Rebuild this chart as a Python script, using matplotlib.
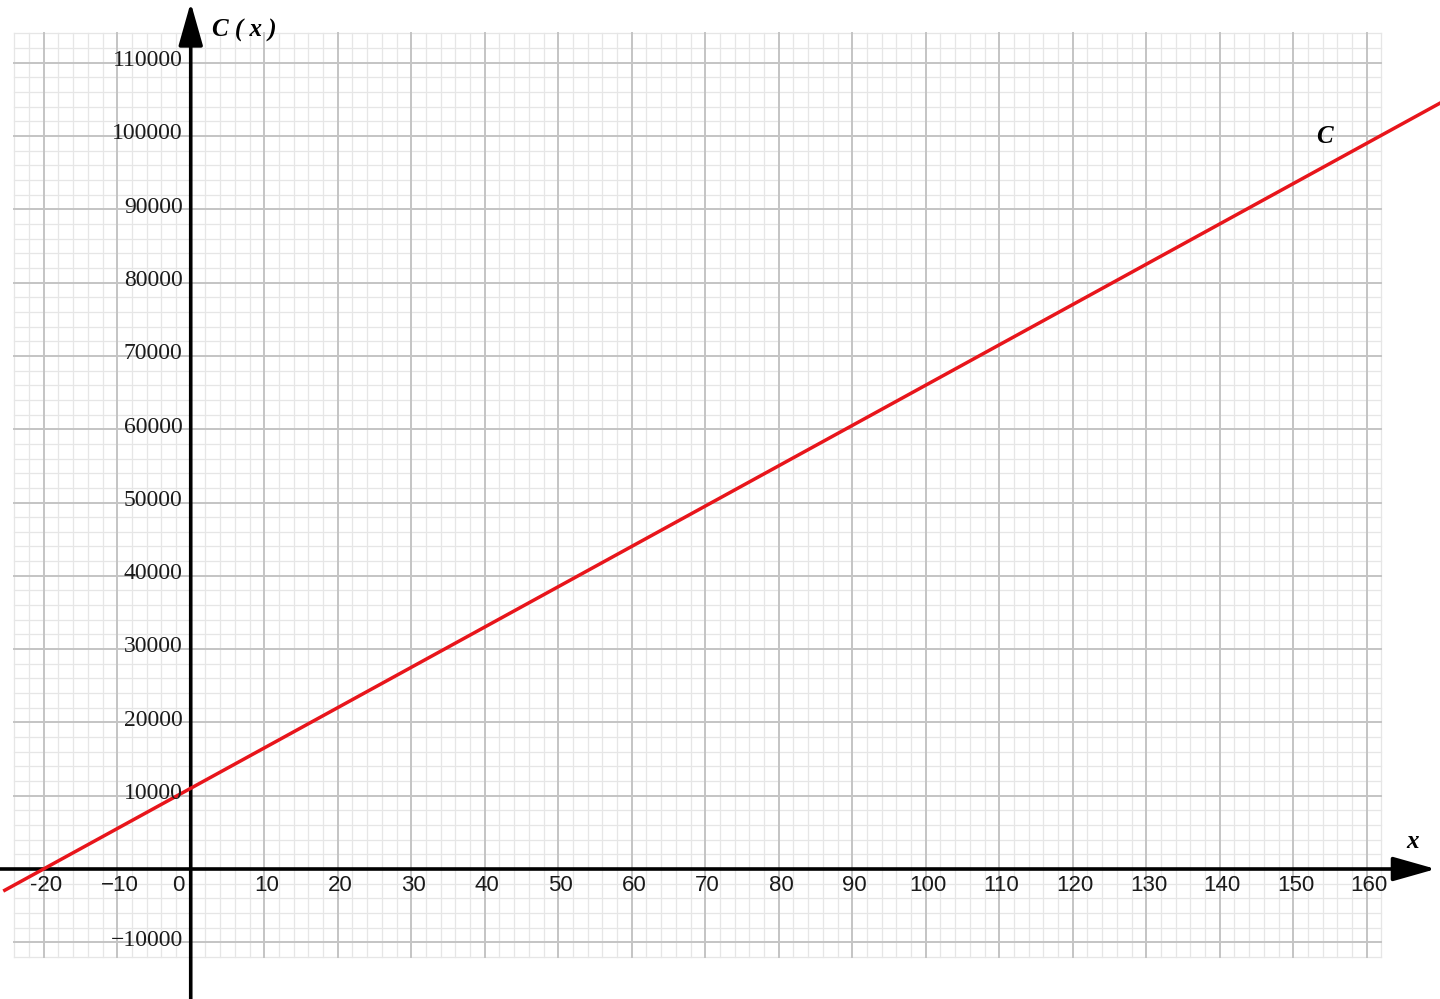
import numpy as np
import matplotlib
matplotlib.use("Agg")
import matplotlib.pyplot as plt

# cost line C(x), end points
line_x = [-25.3, 170.0]
line_y = [-2900, 104500]

x_ticks = [-20, -10, 0, 10, 20, 30, 40, 50, 60, 70, 80, 90, 100, 110, 120, 130, 140, 150, 160]
y_ticks = [-10000, 10000, 20000, 30000, 40000, 50000, 60000, 70000, 80000, 90000, 100000, 110000]

# grid extent
grid_x = (-24, 162)
grid_y = (-12000, 114000)

fig = plt.figure(figsize=(14.4, 9.99), dpi=100)
ax = fig.add_axes([0, 0, 1, 1])
ax.set_xlim(-25.95, 169.97)
ax.set_ylim(-17735, 118554)
ax.axis("off")

# minor + major grid
for gx in np.arange(grid_x[0], grid_x[1] + 0.1, 2):
    major = gx % 10 == 0
    ax.plot([gx, gx], grid_y, color="#c4c4c4" if major else "#e6e6e6",
            lw=1.4 if major else 0.9, zorder=1 if major else 0)
for gy in np.arange(grid_y[0], grid_y[1] + 1, 2000):
    major = gy % 10000 == 0
    ax.plot(grid_x, [gy, gy], color="#c4c4c4" if major else "#e6e6e6",
            lw=1.4 if major else 0.9, zorder=1 if major else 0)

# axes with arrows
arrow = dict(arrowstyle="-|>,head_length=1.2,head_width=0.34", lw=2.6,
             color="black", shrinkA=0, shrinkB=0, mutation_scale=22)
ax.annotate("", xy=(169.4, 0), xytext=(-26, 0), arrowprops=arrow, zorder=3)
ax.annotate("", xy=(0, 118200), xytext=(0, -17735), arrowprops=arrow, zorder=3)

# cost line
ax.plot(line_x, line_y, color="#e8151b", lw=2.5, zorder=4)

# tick labels
for t in x_ticks:
    if t == 0:
        ax.text(-0.9, -2300, "0", ha="right", va="center", fontsize=16,
                family="Liberation Sans", color="#1a1a1a", zorder=5)
    else:
        lab = "-20" if t == -20 else str(t).replace("-", "\u2212")
        ax.text(t + 0.3, -2300, lab, ha="center", va="center", fontsize=16,
                family="Liberation Sans", color="#1a1a1a", zorder=5)
for t in y_ticks:
    lab = str(t).replace("-", "\u2212")
    ax.text(-1.1, t + 300, lab, ha="right", va="center", fontsize=17,
            family="Liberation Serif", color="#1a1a1a", zorder=5)

# labels
ax.text(2.9, 114400, "C ( x )", ha="left", va="center", fontsize=18,
        family="Liberation Serif", style="italic", weight="bold", zorder=5)
ax.text(154.3, 99900, "C", ha="center", va="center", fontsize=18,
        family="Liberation Serif", style="italic", weight="bold", zorder=5)
ax.text(166.2, 3700, "x", ha="center", va="center", fontsize=18,
        family="Liberation Serif", style="italic", weight="bold", zorder=5)

fig.savefig("out.png", dpi=100, facecolor="white")
